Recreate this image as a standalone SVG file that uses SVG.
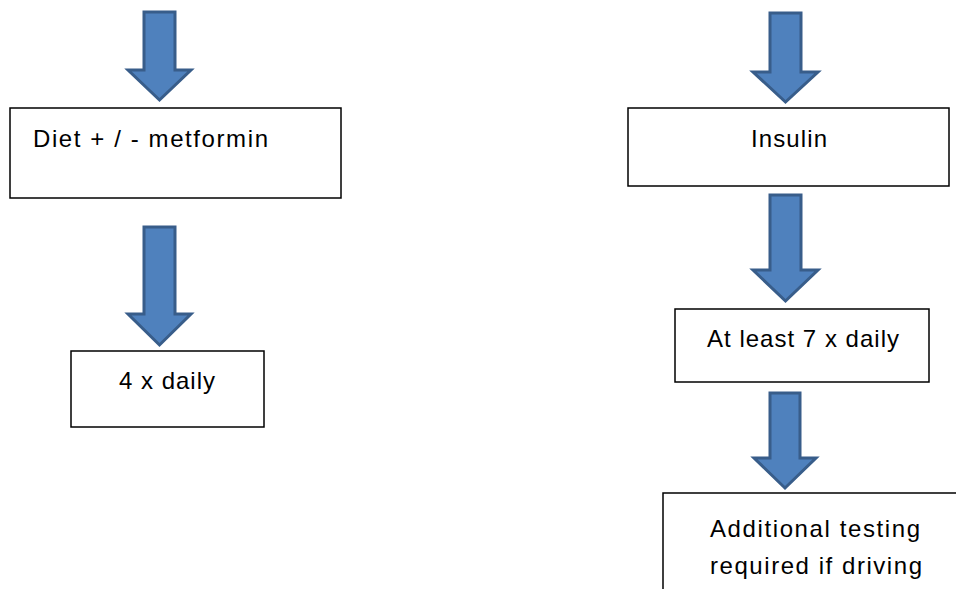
<svg xmlns="http://www.w3.org/2000/svg" width="956" height="589" viewBox="0 0 956 589">
<style>
.box{fill:#fff;stroke:#000;stroke-width:1.5}
.arr{fill:#4F81BD;stroke:#385D8A;stroke-width:3;stroke-linejoin:miter}
.t{font-family:"Liberation Sans","Open Sans",sans-serif;font-size:24px;fill:#000}
</style>
<rect width="956" height="589" fill="#fff"/>
<g id="connectors">
<polygon class="arr" points="144,12 175,12 175,70 191,70 159.5,100 128,70 144,70"/>
<polygon class="arr" points="144,227 175,227 175,314 191,314 159.5,345 128,314 144,314"/>
<polygon class="arr" points="770,13 801,13 801,72 818,72 785.5,102 753,72 770,72"/>
<polygon class="arr" points="770,195 801,195 801,270 818,270 785.5,301 753,270 770,270"/>
<polygon class="arr" points="770,393 800,393 800,458 816,458 785,488 754,458 770,458"/>
</g>
<g id="n1">
<rect class="box" x="10" y="108" width="331" height="90"/>
<text class="t" x="33" y="147" textLength="235">Diet + / - metformin</text>
</g>
<g id="n2">
<rect class="box" x="71" y="351" width="193" height="76"/>
<text class="t" x="119" y="389" textLength="96">4 x daily</text>
</g>
<g id="n3">
<rect class="box" x="628" y="108" width="321" height="78"/>
<text class="t" x="751" y="147" textLength="76">Insulin</text>
</g>
<g id="n4">
<rect class="box" x="675" y="309" width="254" height="73"/>
<text class="t" x="707" y="347" textLength="192">At least 7 x daily</text>
</g>
<g id="n5">
<rect class="box" x="663" y="493" width="310" height="120"/>
<text class="t" x="710" y="537" textLength="210">Additional testing</text>
<text class="t" x="710" y="574" textLength="212">required if driving</text>
</g>
</svg>
